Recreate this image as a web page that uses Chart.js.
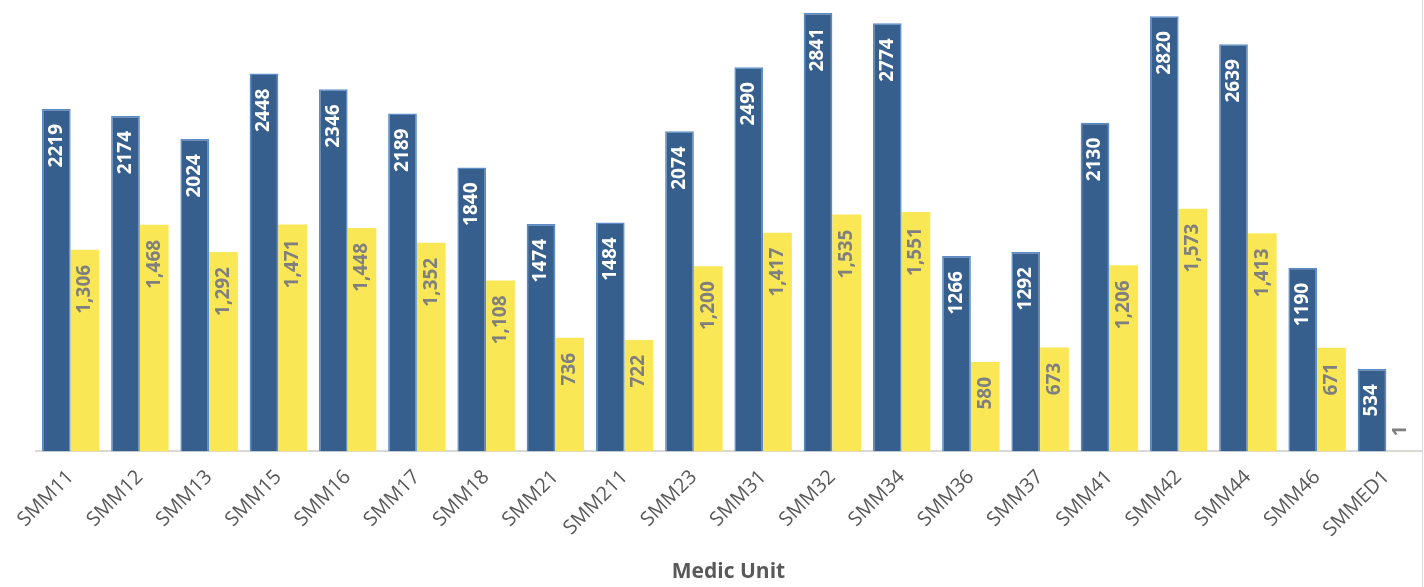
<!DOCTYPE html>
<html>
<head>
<meta charset="utf-8">
<script src="https://cdn.jsdelivr.net/npm/chart.js@4/dist/chart.umd.min.js"></script>
<style>
  body { margin: 0; background: #fff; }
  #wrap { width: 1424px; height: 587px; position: relative; }
</style>
</head>
<body>
<div id="wrap"><canvas id="chart" width="1424" height="587"></canvas></div>
<script>
"use strict";

var units = ["SMM11", "SMM12", "SMM13", "SMM15", "SMM16", "SMM17", "SMM18", "SMM21", "SMM211", "SMM23",
	"SMM31", "SMM32", "SMM34", "SMM36", "SMM37", "SMM41", "SMM42", "SMM44", "SMM46", "SMMED1"];
var blueValues = [2219, 2174, 2024, 2448, 2346, 2189, 1840, 1474, 1484, 2074,
	2490, 2841, 2774, 1266, 1292, 2130, 2820, 2639, 1190, 534];
var yellowValues = [1306, 1468, 1292, 1471, 1448, 1352, 1108, 736, 722, 1200,
	1417, 1535, 1551, 580, 673, 1206, 1573, 1413, 671, 1];
var axisTitle = "Medic Unit";

var labelFont = "bold 19px 'Open Sans', sans-serif";

// draws the rotated value labels, like excel "inside end"
var barLabels = {
	id: "barLabels",
	afterDatasetsDraw: function(chart) {
		var ctx = chart.ctx;
		chart.data.datasets.forEach(function(ds, i) {
			var meta = chart.getDatasetMeta(i);
			meta.data.forEach(function(bar, j) {
				var v = ds.data[j];
				var txt = i === 0 ? String(v) : v.toLocaleString("en-US");
				ctx.save();
				ctx.font = labelFont;
				ctx.fillStyle = i === 0 ? "#ffffff" : "#7f7f7f";
				ctx.textBaseline = "middle";
				var h = bar.base - bar.y;
				if (h > 60) {
					ctx.translate(bar.x, bar.y + 15);
					ctx.rotate(-Math.PI / 2);
					ctx.textAlign = "right";
				} else {
					ctx.translate(bar.x, bar.y - 15);
					ctx.rotate(-Math.PI / 2);
					ctx.textAlign = "left";
				}
				ctx.fillText(txt, 0, 0);
				ctx.restore();
			});
		});
		// thin frame line on the right edge
		ctx.save();
		ctx.strokeStyle = "#d9d9d9";
		ctx.lineWidth = 1;
		ctx.beginPath();
		ctx.moveTo(1422.5, 0);
		ctx.lineTo(1422.5, chart.height);
		ctx.stroke();
		ctx.restore();
	}
};

var ctx = document.getElementById("chart").getContext("2d");
new Chart(ctx, {
	type: "bar",
	data: {
		labels: units,
		datasets: [{
			label: "Units",
			data: blueValues,
			backgroundColor: "#375f8e",
			borderColor: "#5b8cc8",
			borderWidth: 1.5,
			borderSkipped: "bottom",
			barPercentage: 1,
			categoryPercentage: 0.83
		}, {
			label: "Calls",
			data: yellowValues,
			backgroundColor: "#fae755",
			borderWidth: 0,
			barPercentage: 1,
			categoryPercentage: 0.83
		}]
	},
	options: {
		responsive: false,
		animation: false,
		layout: {
			padding: { left: 36, right: 3, top: 0, bottom: 2 }
		},
		plugins: {
			legend: { display: false },
			tooltip: { enabled: false }
		},
		scales: {
			x: {
				grid: { display: false, drawTicks: false },
				border: { display: true, color: "#d9d9d9", width: 2 },
				ticks: {
					color: "#595959",
					font: { family: "'Open Sans', sans-serif", size: 20 },
					maxRotation: 45,
					minRotation: 45,
					padding: 14,
					autoSkip: false
				},
				title: {
					display: true,
					text: axisTitle,
					color: "#595959",
					font: { family: "'Open Sans', sans-serif", size: 21, weight: "bold" },
					padding: { top: 4, bottom: 0 }
				}
			},
			y: {
				display: false,
				min: 0,
				max: 2925
			}
		}
	},
	plugins: [barLabels]
});
</script>
</body>
</html>
